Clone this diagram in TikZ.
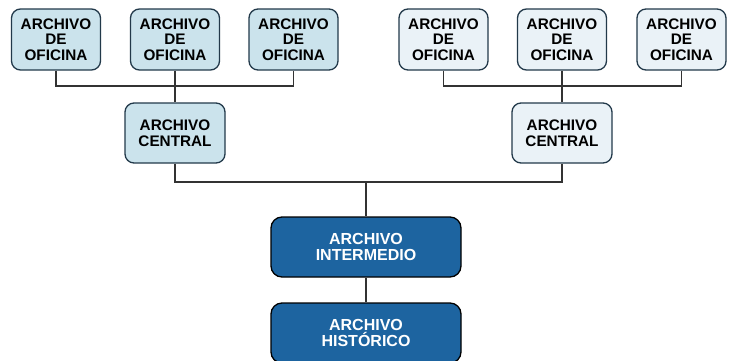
\documentclass[tikz,border=0pt]{standalone}
\usepackage{fontspec}
\setmainfont{Liberation Sans}
\definecolor{lblue}{HTML}{CBE3EC}
\definecolor{pblue}{HTML}{EAF2F7}
\definecolor{dblue}{HTML}{1D64A0}
\definecolor{edge}{HTML}{22394A}
\definecolor{wire}{HTML}{333333}
\begin{document}
\begin{tikzpicture}[x=1pt,y=-1pt,
  box/.style={draw=edge, line width=1.3pt, rounded corners=9pt, inner sep=0pt,
    minimum width=89pt, minimum height=61pt, align=center,
    font=\fontsize{15.3}{15.5}\selectfont\bfseries, text=black},
  lbox/.style={box, fill=lblue},
  rbox/.style={box, fill=pblue},
  cbox/.style={box, minimum width=100pt, minimum height=60pt},
  dbox/.style={draw=black, line width=1.3pt, rounded corners=11pt, inner sep=0pt,
    fill=dblue, minimum width=190pt, minimum height=60pt, align=center,
    font=\fontsize{16}{15.5}\selectfont\bfseries, text=white},
  wirel/.style={draw=wire, line width=1.6pt}]
\useasboundingbox (0,0) rectangle (732,360);
\node[lbox] (o1) at (56,39.5) {ARCHIVO\\DE\\OFICINA};
\node[lbox] (o2) at (175,39.5) {ARCHIVO\\DE\\OFICINA};
\node[lbox] (o3) at (293.5,39.5) {ARCHIVO\\DE\\OFICINA};
\node[rbox] (o4) at (443.5,39.5) {ARCHIVO\\DE\\OFICINA};
\node[rbox] (o5) at (562,39.5) {ARCHIVO\\DE\\OFICINA};
\node[rbox] (o6) at (681.5,39.5) {ARCHIVO\\DE\\OFICINA};
\node[lbox, cbox] (c1) at (175,133) {ARCHIVO\\CENTRAL};
\node[rbox, cbox] (c2) at (562,133) {ARCHIVO\\CENTRAL};
\node[dbox] (im) at (366,247) {ARCHIVO\\INTERMEDIO};
\node[dbox] (hi) at (366,333) {ARCHIVO\\HISTÓRICO};
\coordinate (jl) at (175,86);
\coordinate (jr) at (562,86);
\coordinate (jm) at (366,182);
\draw[wirel] (o1.south) |- (jl) -| (o3.south);
\draw[wirel] (o2.south) -- (c1.north);
\draw[wirel] (o4.south) |- (jr) -| (o6.south);
\draw[wirel] (o5.south) -- (c2.north);
\draw[wirel] (c1.south) |- (jm) -| (c2.south);
\draw[wirel] (jm) -- (im.north);
\draw[wirel] (im.south) -- (hi.north);
\end{tikzpicture}
\end{document}
